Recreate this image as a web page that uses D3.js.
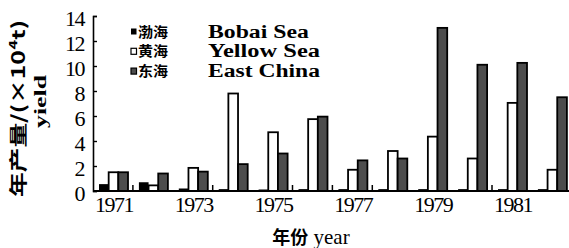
<!DOCTYPE html>
<html>
<head>
<meta charset="utf-8">
<script src="https://cdn.jsdelivr.net/npm/d3@7"></script>
<style>
  body { margin: 0; background: #fff; }
  svg { display: block; }
</style>
</head>
<body>
<figure id="chart" style="margin:0"></figure>
<script>
// data (yield, x10^4 t)
var years = [1971, 1972, 1973, 1974, 1975, 1976, 1977, 1978, 1979, 1980, 1981, 1982];
var bohai = [0.55, 0.7, 0.2, 0.15, 0.12, 0.15, 0.15, 0.15, 0.15, 0.15, 0.15, 0.15];
var yellow = [1.5, 0.45, 1.85, 7.8, 4.7, 5.75, 1.7, 3.2, 4.35, 2.6, 7.05, 1.7];
var eastChina = [1.5, 1.4, 1.55, 2.15, 3.0, 5.95, 2.45, 2.6, 13.05, 10.1, 10.25, 7.5];
var yTicks = [0, 2, 4, 6, 8, 10, 12, 14];
var xLabels = [1971, 1973, 1975, 1977, 1979, 1981];
var xTickAfter = [1971, 1973, 1975, 1976, 1977, 1980]; // small ticks seen on the x axis
var seriesNames = ["bohai", "yellow", "east"];
var legendCn = ["渤海", "黄海", "东海"];
var legendEn = ["Bobai Sea", "Yellow Sea", "East China"];

var width = 569, height = 248;
var margin = {top: 16, left: 93, bottom: 57};
var step = 39.9;

var svg = d3.select("#chart")
  .append("svg")
    .attr("width", width)
    .attr("height", height);

var x = d3.scaleBand()
  .domain(years)
  .range([margin.left, margin.left + step * years.length])
  .padding(0);

var xSub = d3.scaleBand()
  .domain(seriesNames)
  .range([6, 35]);

var y = d3.scaleLinear()
  .domain([0, 14])
  .range([height - margin.bottom, margin.top]);

var fills = {bohai: "#000", yellow: "#fff", east: "#4d4d4d"};

var rows = years.map(function(yr, i) {
  return {year: yr, vals: [
    {key: "bohai", v: bohai[i]},
    {key: "yellow", v: yellow[i]},
    {key: "east", v: eastChina[i]}
  ]};
});

// bars
var groups = svg.append("g").selectAll("g")
  .data(rows)
  .enter().append("g")
    .attr("transform", function(d) { return "translate(" + x(d.year) + ",0)"; });

groups.selectAll("rect")
  .data(function(d) { return d.vals; })
  .enter().append("rect")
    .attr("x", function(d) { return xSub(d.key); })
    .attr("width", xSub.bandwidth())
    .attr("y", function(d) { return y(d.v); })
    .attr("height", function(d) { return y(0) - y(d.v); })
    .attr("fill", function(d) { return fills[d.key]; })
    .attr("stroke", "#000")
    .attr("stroke-width", function(d) { return d.key == "bohai" ? 0 : 1.8; });

// y axis
svg.append("g")
  .attr("transform", "translate(" + margin.left + ",0)")
  .call(d3.axisRight(y).tickValues(yTicks).tickSize(4).tickFormat(""))
  .call(function(g) {
    g.select(".domain").attr("stroke-width", 1.6);
    g.selectAll(".tick line").attr("stroke-width", 1.4);
  });

svg.append("g").selectAll("text")
  .data(yTicks)
  .enter().append("text")
    .attr("x", 84)
    .attr("y", function(d) { return y(d) + 9.5; })
    .attr("text-anchor", "end")
    .style("font-family", "Liberation Serif")
    .style("font-size", "22px")
    .style("letter-spacing", "-1.5px")
    .text(function(d) { return d; });

// x axis
svg.append("line")
  .attr("x1", margin.left)
  .attr("x2", width)
  .attr("y1", y(0))
  .attr("y2", y(0))
  .attr("stroke", "#000")
  .attr("stroke-width", 2);

svg.append("g").selectAll("line")
  .data(xTickAfter)
  .enter().append("line")
    .attr("x1", function(d) { return x(d) + x.bandwidth(); })
    .attr("x2", function(d) { return x(d) + x.bandwidth(); })
    .attr("y1", y(0))
    .attr("y2", y(0) - 6)
    .attr("stroke", "#000")
    .attr("stroke-width", 1.5);

svg.append("g").selectAll("text")
  .data(xLabels)
  .enter().append("text")
    .attr("x", function(d) { return x(d) + x.bandwidth() / 2 + 1; })
    .attr("y", 212)
    .attr("text-anchor", "middle")
    .style("font-family", "Liberation Serif")
    .style("font-size", "22px")
    .style("letter-spacing", "-1.5px")
    .text(function(d) { return d; });

// axis titles
var xt = svg.append("text")
  .attr("x", 311)
  .attr("y", 244)
  .attr("text-anchor", "middle")
  .style("font-size", "18px");
xt.append("tspan").style("font-family", "Noto Sans CJK SC").style("font-weight", "bold").text("年份");
xt.append("tspan").style("font-family", "Liberation Serif").style("font-size", "21px").text(" year");

svg.append("text")
  .attr("transform", "translate(25,108.5) rotate(-90)")
  .attr("text-anchor", "middle")
  .attr("textLength", 177)
  .attr("lengthAdjust", "spacingAndGlyphs")
  .style("font-family", "Noto Sans CJK SC")
  .style("font-weight", "bold")
  .style("font-size", "18px")
  .text("年产量/(×10⁴t)");

svg.append("text")
  .attr("transform", "translate(46,101.5) rotate(-90)")
  .attr("text-anchor", "middle")
  .attr("textLength", 53)
  .attr("lengthAdjust", "spacingAndGlyphs")
  .style("font-family", "Liberation Serif")
  .style("font-weight", "bold")
  .style("font-size", "17px")
  .text("yield");

// legend
var legend = svg.append("g").selectAll("g")
  .data(seriesNames)
  .enter().append("g")
    .attr("transform", function(d, i) { return "translate(131," + (31.5 + i * 19.8) + ")"; });

legend.append("rect")
  .attr("x", 0)
  .attr("y", -3)
  .attr("width", 5.5)
  .attr("height", 6)
  .attr("fill", function(d) { return fills[d]; })
  .attr("stroke", "#000")
  .attr("stroke-width", function(d) { return d == "bohai" ? 0 : 1.2; });

legend.append("text")
  .attr("x", 7)
  .attr("y", 5)
  .attr("textLength", 30)
  .attr("lengthAdjust", "spacingAndGlyphs")
  .style("font-family", "Noto Sans CJK SC")
  .style("font-weight", "bold")
  .style("font-size", "13.5px")
  .text(function(d, i) { return legendCn[i]; });

legend.append("text")
  .attr("x", 77)
  .attr("y", 6)
  .attr("textLength", function(d, i) { return legendEn[i].length * 11.2; })
  .attr("lengthAdjust", "spacingAndGlyphs")
  .style("font-family", "Liberation Serif")
  .style("font-weight", "bold")
  .style("font-size", "18px")
  .text(function(d, i) { return legendEn[i]; });
</script>
</body>
</html>
